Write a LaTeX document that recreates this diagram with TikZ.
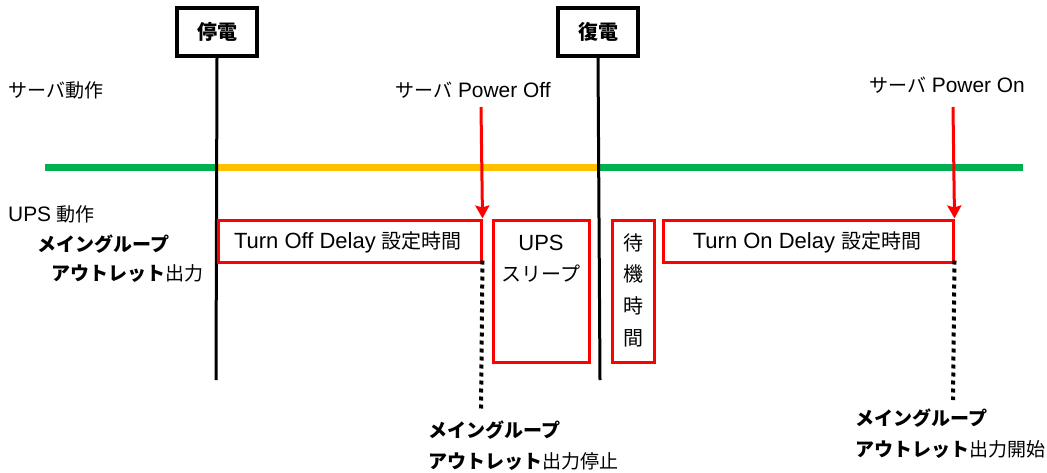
\documentclass[tikz,border=0pt]{standalone}
\usepackage{fontspec}
\setmainfont[Scale=1.1]{Liberation Sans}
\newfontfamily\J{Noto Sans CJK JP}
\usetikzlibrary{arrows.meta}
\definecolor{ggreen}{HTML}{00B050}
\definecolor{gorange}{HTML}{FFC000}
\begin{document}
\begin{tikzpicture}[x=1pt,y=-1pt,
  font=\fontsize{19}{22}\selectfont,
  evbox/.style={draw=black,line width=3.5pt,minimum width=80pt,minimum height=48pt,inner sep=0pt,font=\fontsize{20}{22}\selectfont\J\bfseries},
  redbox/.style={draw=red,line width=3pt,inner sep=0pt},
  vline/.style={draw=black,line width=3pt},
  hline/.style={line width=7pt},
  redarrow/.style={draw=red,line width=3pt,-{Stealth[length=13pt,width=14pt,inset=2pt]}},
  dotline/.style={draw=black,line width=4pt,dash pattern=on 4pt off 4pt},
  lbl/.style={inner sep=0pt},
  boxtxt/.style={inner sep=0pt,font=\fontsize{20}{22}\selectfont}
]
\useasboundingbox (0,0) rectangle (1047,472);
% event boxes
\node[evbox] (teiden) at (217,32) {停電};
\node[evbox] (fukuden) at (598,32) {復電};
\coordinate (tend) at (216,380);
\coordinate (fend) at (600,380);
% horizontal state line
\coordinate (gL) at (45,167);
\coordinate (gR) at (1023,167);
\coordinate (gA) at (216,167);
\coordinate (gB) at (600,167);
\draw[hline,ggreen] (gL) -- (gA);
\draw[hline,gorange] (gA) -- (gB);
\draw[hline,ggreen] (gB) -- (gR);
% vertical lines
\draw[vline] (teiden.south) -- (tend);
\draw[vline] (fukuden.south) -- (fend);
% red boxes
\node[redbox,minimum width=263pt,minimum height=42pt] (offbox) at (349.5,241) {};
\node[boxtxt] (offtxt) at (348,242) {Turn Off Delay {\J 設定時間}};
\node[redbox,minimum width=96pt,minimum height=142pt] (sleep) at (541,291) {};
\node[boxtxt,align=center] (sleeptxt) at (541,259) {UPS\\[9pt]{\J スリープ}};
\node[redbox,minimum width=42pt,minimum height=142pt] (wait) at (633,291) {};
\node[lbl,align=center,font=\fontsize{20}{31.7}\selectfont\J] (waittxt) at (633,290) {待\\機\\時\\間};
\node[redbox,minimum width=290pt,minimum height=42pt] (onbox) at (808,241) {};
\node[boxtxt] (ontxt) at (807,242) {Turn On Delay {\J 設定時間}};
% red arrows
\coordinate (offtop) at (481,107);
\coordinate (ontop) at (953,107);
\draw[redarrow] (offtop) -- (offbox.north east);
\draw[redarrow] (ontop) -- (onbox.north east);
% dotted lines
\coordinate (offbot) at (481,410);
\coordinate (onbot) at (953,400);
\draw[dotline] ([yshift=3pt]offbox.south east) -- (offbot);
\draw[dotline] ([yshift=3pt]onbox.south east) -- (onbot);
% labels
\node[lbl,anchor=west] (srvop) at (8,90) {\J サーバ動作};
\node[lbl,anchor=west] (upsop) at (8,214) {UPS {\J 動作}};
\node[lbl,anchor=west] (mg1) at (37,244) {\J\bfseries メイングループ};
\node[lbl,anchor=west] (ao1) at (51,274) {\J{\bfseries アウトレット}出力};
\node[lbl] (poff) at (473,90) {{\J サーバ} Power Off};
\node[lbl] (pon) at (947,85) {{\J サーバ} Power On};
\node[lbl,anchor=west] (mg2) at (428,430) {\J\bfseries メイングループ};
\node[lbl,anchor=west] (ao2) at (428,462) {\J{\bfseries アウトレット}出力停止};
\node[lbl,anchor=west] (mg3) at (855,418) {\J\bfseries メイングループ};
\node[lbl,anchor=west] (ao3) at (855,449) {\J{\bfseries アウトレット}出力開始};
\end{tikzpicture}
\end{document}
